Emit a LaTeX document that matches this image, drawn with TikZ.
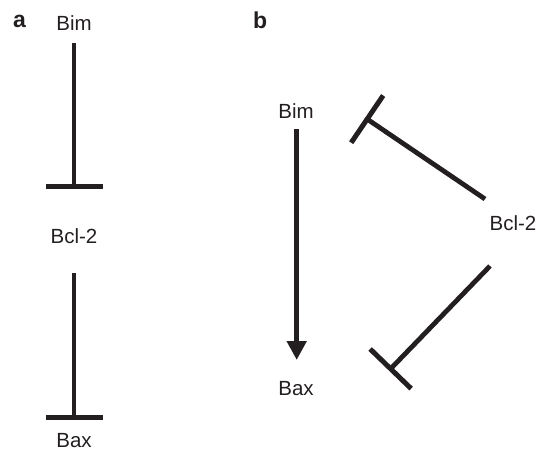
\documentclass[tikz,border=0pt]{standalone}
\usepackage{fontspec}
\setmainfont{Liberation Sans}
\usetikzlibrary{arrows.meta,calc}
\definecolor{ink}{RGB}{35,31,32}
\begin{document}
\begin{tikzpicture}[x=1pt,y=-1pt,
  lbl/.style={anchor=base,inner sep=0pt,text=ink,font=\fontsize{20.5}{24}\selectfont},
  panel/.style={anchor=base west,inner sep=0pt,text=ink,font=\fontsize{23}{26}\selectfont\bfseries},
  inh/.style={draw=ink,line width=4.8pt,-{Bar[width=57pt,line width=5pt]}},
  act/.style={draw=ink,fill=ink,line width=4.8pt,-{Triangle[length=19pt,width=19pt]}}]
\useasboundingbox (0,0) rectangle (543,450);
% panel a
\node[panel] (pa) at (13,27) {a};
\node[lbl] (bimA) at (74,30) {Bim};
\node[lbl] (bclA) at (74,243) {Bcl-2};
\node[lbl] (baxA) at (74,447) {Bax};
\draw[inh] ($(bimA.base)+(0,13)$) -- ($(bclA.base)+(0,-54.5)$);
\draw[inh] ($(bclA.base)+(0,30)$) -- ($(baxA.base)+(0,-27.5)$);
% panel b
\node[panel] (pb) at (253,28) {b};
\node[lbl] (bimB) at (296,118) {Bim};
\node[lbl] (baxB) at (296,395) {Bax};
\node[lbl] (bclB) at (513,230) {Bcl-2};
\draw[act] ($(bimB.base)+(0.7,11)$) -- ($(baxB.base)+(0.7,-35)$);
\draw[inh] ($(bclB.base)+(-28,-31)$) -- ($(bimB.base)+(69.1,-0.3)$);
\draw[inh] ($(bclB.base)+(-23,36)$) -- ($(baxB.base)+(92.9,-24.4)$);
\end{tikzpicture}
\end{document}
